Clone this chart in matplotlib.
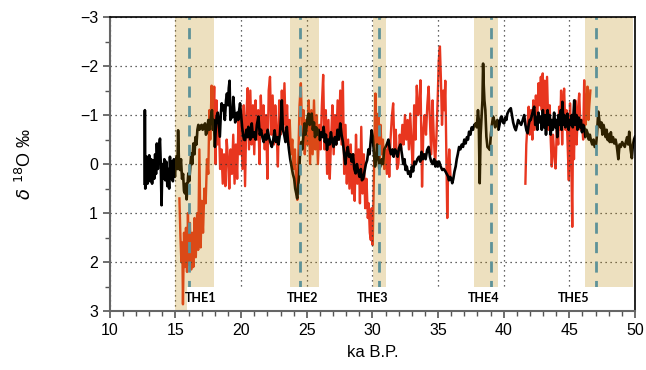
import numpy as np
import matplotlib
matplotlib.use("Agg")
import matplotlib.pyplot as plt
from matplotlib.patches import Rectangle
from matplotlib.ticker import MultipleLocator

plt.rcParams['font.family'] = ['Liberation Sans', 'DejaVu Sans']

# black record (ka B.P., d18O)
black = [
    (12.65, 0.40), (12.67, -1.10), (12.70, 0.50), (12.75, -0.05), (12.80, -0.15), (12.87, 0.40),
    (12.93, 0.10), (13.00, -0.18), (13.07, 0.35), (13.15, -0.10), (13.22, 0.40), (13.30, -0.08),
    (13.38, 0.30), (13.45, -0.20), (13.52, 0.20), (13.58, -0.42), (13.66, 0.10), (13.74, -0.30),
    (13.82, -0.52), (13.88, 0.00), (13.94, 0.84), (14.00, 0.00), (14.08, 0.30), (14.15, -0.10),
    (14.22, 0.33), (14.30, -0.05), (14.38, 0.45), (14.45, 0.10), (14.52, 0.50), (14.58, -0.15),
    (14.65, 0.30), (14.72, -0.05), (14.80, 0.35), (14.88, -0.10), (14.96, 0.26), (15.03, -0.05),
    (15.09, -0.15), (15.15, 0.10), (15.20, -0.69), (15.27, 0.00), (15.34, 0.12), (15.42, -0.10),
    (15.50, 0.30), (15.58, 0.20), (15.65, 0.55), (15.73, 0.60), (15.80, 0.40), (15.85, 0.72),
    (15.92, 0.40), (15.98, 0.19), (16.05, 0.35), (16.12, 0.10), (16.20, -0.22), (16.28, 0.00),
    (16.36, -0.42), (16.45, -0.20), (16.52, -0.55), (16.60, -0.40), (16.67, -0.70), (16.74, -0.80),
    (16.82, -0.70), (16.90, -0.78), (17.00, -0.80), (17.07, -0.70), (17.15, -0.75), (17.25, -0.83),
    (17.32, -0.60), (17.40, -0.65), (17.50, -0.90), (17.58, -0.70), (17.65, -0.85), (17.72, -1.00),
    (17.78, -1.10), (17.85, -0.70), (17.92, -0.90), (18.00, -0.35), (18.08, -0.80), (18.14, -0.97),
    (18.22, -1.05), (18.30, -0.80), (18.38, -0.56), (18.45, -1.00), (18.52, -1.24), (18.60, -1.10),
    (18.68, -1.20), (18.76, -0.90), (18.85, -1.30), (18.92, -1.44), (19.00, -1.20), (19.06, -1.55),
    (19.12, -1.70), (19.18, -0.90), (19.25, -1.10), (19.32, -0.95), (19.40, -1.37), (19.48, -1.10),
    (19.55, -0.85), (19.62, -1.00), (19.70, -1.05), (19.78, -0.90), (19.85, -1.10), (19.92, -1.24),
    (20.00, -1.00), (20.08, -0.75), (20.15, -0.60), (20.22, -0.50), (20.30, -0.49), (20.40, -0.70),
    (20.48, -0.55), (20.55, -0.76), (20.62, -0.60), (20.70, -0.50), (20.81, -0.83), (20.90, -0.55),
    (21.00, -0.65), (21.10, -0.50), (21.20, -0.80), (21.32, -0.97), (21.42, -0.60), (21.52, -0.70),
    (21.62, -0.55), (21.72, -0.45), (21.83, -0.60), (21.92, -0.50), (22.02, -0.70), (22.12, -0.55),
    (22.22, -0.45), (22.34, -0.35), (22.45, -0.50), (22.55, -0.69), (22.65, -0.45), (22.75, -0.55),
    (22.85, -0.40), (22.95, -0.60), (23.05, -1.00), (23.10, -1.30), (23.18, -0.70), (23.28, -0.60),
    (23.38, -0.45), (23.48, -0.76), (23.56, -0.50), (23.64, -0.30), (23.74, -0.10), (23.84, 0.05),
    (23.94, 0.20), (24.04, 0.30), (24.12, 0.50), (24.20, 0.60), (24.27, 0.70), (24.35, 0.45),
    (24.42, 0.20), (24.50, -0.29), (24.58, -0.45), (24.66, -0.30), (24.75, -0.60), (24.83, -0.83),
    (24.90, -0.60), (24.98, -0.75), (25.06, -0.95), (25.14, -1.03), (25.22, -0.80), (25.30, -0.90),
    (25.38, -1.03), (25.46, -0.70), (25.55, -0.85), (25.63, -0.55), (25.72, -0.75), (25.80, -0.60),
    (25.90, -0.70), (26.00, -0.49), (26.10, -0.65), (26.20, -0.55), (26.28, -0.76), (26.38, -0.45),
    (26.46, -0.60), (26.54, -0.29), (26.64, -0.50), (26.74, -0.40), (26.84, -0.65), (26.94, -0.45),
    (27.04, -0.35), (27.14, -0.55), (27.24, -0.40), (27.34, -0.70), (27.44, -0.50), (27.55, -0.83),
    (27.65, -0.60), (27.75, -0.45), (27.85, -0.20), (27.93, 0.00), (28.02, -0.20), (28.12, -0.35),
    (28.22, -0.15), (28.32, -0.20), (28.42, -0.05), (28.52, -0.20), (28.62, 0.10), (28.72, 0.19),
    (28.82, 0.00), (28.92, 0.15), (29.02, 0.26), (29.12, 0.10), (29.20, 0.33), (29.30, 0.30),
    (29.40, 0.15), (29.50, 0.00), (29.60, -0.08), (29.70, -0.30), (29.78, -0.20), (29.86, -0.45),
    (29.94, -0.69), (30.03, -0.56), (30.12, -0.20), (30.20, 0.05), (30.28, -0.10), (30.36, -0.40),
    (30.44, -0.20), (30.52, 0.09), (30.60, 0.05), (30.70, -0.10), (30.80, 0.00), (30.90, -0.30),
    (31.00, -0.35), (31.12, -0.42), (31.22, -0.50), (31.32, -0.30), (31.42, -0.20), (31.52, -0.30),
    (31.62, -0.15), (31.72, -0.30), (31.82, -0.25), (31.92, -0.15), (32.02, -0.32), (32.14, -0.40),
    (32.25, -0.20), (32.35, 0.00), (32.45, -0.10), (32.52, 0.12), (32.62, 0.05), (32.72, 0.20),
    (32.82, 0.15), (32.90, 0.26), (33.00, 0.05), (33.10, 0.15), (33.20, -0.05), (33.30, 0.00),
    (33.42, -0.10), (33.54, -0.15), (33.64, -0.05), (33.74, -0.25), (33.84, -0.10), (33.94, -0.20),
    (34.05, -0.10), (34.17, -0.29), (34.28, -0.35), (34.38, -0.15), (34.48, -0.05), (34.60, 0.00),
    (34.70, -0.10), (34.80, 0.05), (34.90, -0.05), (34.98, 0.05), (35.08, -0.05), (35.20, 0.05),
    (35.32, 0.12), (35.44, 0.10), (35.56, 0.15), (35.66, 0.20), (35.76, 0.25), (35.83, 0.33),
    (35.92, 0.26), (36.00, 0.30), (36.08, 0.39), (36.16, 0.30), (36.25, 0.15), (36.34, 0.05),
    (36.42, -0.10), (36.50, -0.20), (36.60, -0.35), (36.70, -0.30), (36.80, -0.40), (36.90, -0.35),
    (37.00, -0.50), (37.10, -0.42), (37.20, -0.55), (37.28, -0.50), (37.36, -0.66), (37.46, -0.60),
    (37.56, -0.75), (37.66, -0.70), (37.76, -0.80), (37.87, -0.83), (37.95, -0.75), (38.04, -1.10),
    (38.10, -0.90), (38.17, 0.39), (38.24, -0.60), (38.32, -1.00), (38.38, -1.30), (38.43, -2.05),
    (38.48, -1.60), (38.53, -1.30), (38.60, -1.10), (38.68, -0.56), (38.76, -0.35), (38.86, -0.32),
    (38.94, -0.29), (39.02, -0.60), (39.10, -0.80), (39.19, -0.97), (39.27, -0.90), (39.35, -0.75),
    (39.44, -0.85), (39.52, -0.90), (39.60, -0.70), (39.68, -0.80), (39.77, -0.95), (39.85, -0.97),
    (39.94, -0.85), (40.03, -0.83), (40.12, -0.95), (40.20, -0.90), (40.28, -1.03), (40.41, -1.10),
    (40.54, -1.14), (40.63, -1.00), (40.72, -0.85), (40.82, -0.75), (40.92, -0.69), (41.02, -0.80),
    (41.10, -0.90), (41.20, -0.85), (41.33, -0.80), (41.45, -0.90), (41.56, -1.00), (41.65, -0.80),
    (41.73, -0.69), (41.82, -0.63), (41.90, -0.80), (41.98, -0.90), (42.06, -0.90), (42.15, -1.00),
    (42.24, -1.10), (42.32, -1.17), (42.40, -0.80), (42.48, -0.95), (42.56, -0.70), (42.64, -1.05),
    (42.72, -0.85), (42.83, -0.97), (42.90, -0.70), (42.98, -1.10), (43.06, -0.75), (43.14, -1.00),
    (43.22, -0.60), (43.34, -1.10), (43.42, -0.80), (43.50, -1.00), (43.58, -0.60), (43.66, -0.90),
    (43.74, -0.70), (43.84, -1.05), (43.92, -0.75), (44.00, -0.90), (44.08, -0.55), (44.16, -1.00),
    (44.24, -0.80), (44.35, -1.10), (44.42, -0.70), (44.47, -1.27), (44.55, -0.80), (44.62, -1.00),
    (44.70, -0.75), (44.78, -0.95), (44.86, -1.03), (44.94, -0.70), (45.02, -0.90), (45.10, -0.80),
    (45.18, -1.00), (45.26, -0.75), (45.37, -1.30), (45.45, -0.80), (45.54, -1.00), (45.62, -0.70),
    (45.70, -0.95), (45.80, -0.75), (45.88, -0.90), (45.96, -0.65), (46.06, -0.80), (46.14, -0.76),
    (46.22, -0.55), (46.30, -0.70), (46.39, -0.63), (46.48, -0.50), (46.56, -0.60), (46.64, -0.49),
    (46.74, -0.40), (46.84, -0.50), (46.93, -0.35), (47.02, -0.35), (47.10, -0.60), (47.20, -1.07),
    (47.28, -0.90), (47.36, -0.75), (47.44, -0.85), (47.52, -0.60), (47.60, -0.80), (47.68, -0.70),
    (47.76, -0.55), (47.84, -0.70), (47.92, -0.49), (48.00, -0.60), (48.08, -0.45), (48.16, -0.65),
    (48.24, -0.45), (48.32, -0.55), (48.42, -0.42), (48.52, -0.50), (48.62, -0.35), (48.73, -0.10),
    (48.82, -0.40), (48.92, -0.35), (49.02, -0.45), (49.12, -0.40), (49.22, -0.35), (49.30, -0.45),
    (49.40, -0.55), (49.48, -0.40), (49.56, -0.66), (49.66, -0.30), (49.76, -0.12), (49.84, -0.40),
    (49.92, -0.50), (50.00, -0.56),
]

# red record, part 1 (15.3-36 ka) and part 2 (41.6-46.6 ka)
red1 = [
    (15.30, 0.70), (15.38, 1.50), (15.45, 2.00), (15.52, 1.60), (15.57, 2.86), (15.65, 1.40),
    (15.72, 2.10), (15.80, 1.30), (15.88, 2.20), (15.95, 1.00), (16.03, 2.05), (16.10, 1.20),
    (16.20, 2.15), (16.28, 1.40), (16.36, 2.10), (16.45, 1.10), (16.55, 1.90), (16.65, 1.00),
    (16.73, 1.75), (16.82, -0.30), (16.92, 1.70), (17.00, 0.75), (17.10, 1.40), (17.20, 0.50),
    (17.30, 0.80), (17.40, -0.10), (17.50, 0.20), (17.58, -1.10), (17.65, -0.50), (17.75, -1.60),
    (17.85, -0.80), (17.95, -1.58), (18.05, 0.00), (18.12, -1.30), (18.20, -0.40), (18.30, -0.90),
    (18.40, 0.10), (18.50, -0.30), (18.60, 0.40), (18.70, -0.20), (18.80, 0.45), (18.90, -0.50),
    (19.00, -0.10), (19.10, 0.50), (19.20, -0.30), (19.30, 0.20), (19.40, -0.60), (19.50, 0.40),
    (19.60, -0.40), (19.70, 0.30), (19.80, -0.90), (19.90, -0.20), (20.00, -1.00), (20.10, 0.10),
    (20.20, -1.20), (20.30, 0.45), (20.40, -1.00), (20.50, -1.55), (20.60, -0.30), (20.70, -1.50),
    (20.80, -0.40), (20.90, -1.20), (21.00, -0.20), (21.10, -1.30), (21.20, -0.50), (21.30, -1.10),
    (21.40, 0.00), (21.50, -1.40), (21.60, -0.60), (21.70, -1.20), (21.80, -0.30), (21.90, -1.00),
    (22.00, 0.30), (22.10, -1.50), (22.20, -1.78), (22.30, -0.60), (22.40, -1.40), (22.50, -0.40),
    (22.60, -1.20), (22.70, -0.70), (22.80, 0.05), (22.90, -1.30), (23.00, -0.60), (23.10, -1.50),
    (23.20, -0.80), (23.30, -1.65), (23.40, -0.60), (23.50, -1.20), (23.60, -0.40), (23.70, -0.90),
    (23.80, -0.20), (23.90, -0.50), (24.00, 0.10), (24.10, -0.30), (24.20, 0.50), (24.28, 0.73),
    (24.35, -0.10), (24.45, -1.20), (24.55, -1.65), (24.65, -0.60), (24.75, -1.10), (24.85, -0.20),
    (24.95, -0.90), (25.05, -0.40), (25.15, -1.30), (25.25, 0.00), (25.35, -1.10), (25.45, -0.20),
    (25.55, -1.30), (25.65, -0.30), (25.75, -1.00), (25.85, 0.00), (25.95, -0.80), (26.05, -0.30),
    (26.15, -1.20), (26.25, -1.82), (26.35, -0.30), (26.45, -1.10), (26.55, 0.20), (26.65, -0.90),
    (26.75, 0.30), (26.85, -0.50), (26.95, -1.20), (27.05, -0.20), (27.15, -1.00), (27.25, -0.40),
    (27.35, -1.30), (27.45, -0.50), (27.55, -1.50), (27.65, -0.40), (27.75, -1.68), (27.85, 0.20),
    (27.95, -0.80), (28.05, 0.40), (28.15, -0.50), (28.25, 0.50), (28.35, -0.40), (28.45, 0.60),
    (28.55, -0.20), (28.65, 0.75), (28.75, -0.60), (28.85, 0.40), (28.95, -0.30), (29.05, 0.80),
    (29.15, -0.76), (29.25, 0.60), (29.35, -0.20), (29.45, 0.90), (29.55, 0.30), (29.65, 1.10),
    (29.72, 0.80), (29.80, 1.40), (29.88, 1.55), (29.95, 0.90), (30.02, 1.65), (30.10, 0.40),
    (30.18, -0.80), (30.23, -1.44), (30.30, -0.60), (30.38, -0.30), (30.45, -1.03), (30.55, 0.10),
    (30.62, -0.80), (30.70, -0.20), (30.80, -0.50), (30.90, 0.10), (31.00, -0.30), (31.10, 0.20),
    (31.20, -0.40), (31.28, 0.26), (31.38, -0.50), (31.48, -0.97), (31.58, -1.24), (31.68, -0.30),
    (31.78, -0.70), (31.88, 0.10), (31.98, 0.00), (32.08, -0.60), (32.18, -0.30), (32.28, -0.80),
    (32.38, -0.40), (32.48, -1.00), (32.58, -0.50), (32.68, -0.90), (32.78, -0.30), (32.88, -1.03),
    (32.98, -0.40), (33.08, 0.10), (33.18, -1.20), (33.28, -0.50), (33.38, -1.60), (33.48, -1.00),
    (33.58, -1.20), (33.66, -1.71), (33.78, 0.46), (33.88, -0.70), (33.98, -1.00), (34.08, -0.60),
    (34.18, -1.20), (34.28, -1.58), (34.38, -0.90), (34.48, -0.20), (34.58, -1.30), (34.68, -0.50),
    (34.78, 0.00), (34.88, -0.60), (34.98, -1.40), (35.05, -2.10), (35.14, -2.40), (35.22, -1.70),
    (35.30, -0.80), (35.40, -1.50), (35.48, -1.10), (35.55, -1.70), (35.62, -0.40), (35.70, 1.10),
    (35.76, 0.20), (35.85, -0.30), (35.95, 0.26),
]
red2 = [
    (41.65, 0.40), (41.72, -0.40), (41.80, -0.76), (41.90, -1.17), (41.98, -0.60), (42.08, -1.10),
    (42.18, -0.50), (42.25, -1.30), (42.35, -0.70), (42.45, -1.40), (42.55, -0.90), (42.65, -1.65),
    (42.75, -1.20), (42.83, -1.78), (42.90, -1.10), (42.97, -1.85), (43.05, -1.00), (43.12, -1.70),
    (43.20, -0.90), (43.30, -1.78), (43.40, -0.70), (43.50, -1.20), (43.58, -0.50), (43.66, 0.05),
    (43.75, -0.60), (43.85, -0.20), (43.95, 0.09), (44.05, -0.80), (44.15, -0.40), (44.22, -1.17),
    (44.30, -0.70), (44.37, -1.50), (44.45, -0.40), (44.52, -1.20), (44.60, -1.54), (44.70, -0.70),
    (44.78, -1.10), (44.88, -0.30), (44.96, 0.33), (45.05, -1.24), (45.12, -0.60), (45.22, 1.28),
    (45.28, -0.80), (45.35, -0.10), (45.45, -1.30), (45.55, -0.40), (45.65, -1.10), (45.75, -1.44),
    (45.85, -0.70), (45.95, -0.90), (46.05, -0.50), (46.13, -1.71), (46.22, -0.80), (46.30, -1.20),
    (46.38, -1.58), (46.45, -0.90), (46.52, -1.20), (46.60, -1.50),
]

# shaded events (start, end), dashed event ages and labels
bands = [(15.0, 17.9), (23.7, 25.95), (30.05, 31.0), (37.7, 39.6), (46.2, 49.85)]
event_ages = [16.0, 24.5, 30.5, 39.05, 47.05]
labels = ['THE1', 'THE2', 'THE3', 'THE4', 'THE5']
label_x = [16.9, 24.7, 30.0, 38.5, 45.3]

fig = plt.figure(figsize=(6.46, 3.70), dpi=100)
ax = fig.add_axes([0.170, 0.159, 0.813, 0.795])

bx, by = zip(*black)
r1x, r1y = zip(*red1)
r2x, r2y = zip(*red2)
ax.plot(r1x, r1y, color='#e8361f', lw=1.7, zorder=2)
ax.plot(r2x, r2y, color='#e8361f', lw=1.7, zorder=2)
ax.plot(bx, by, color='black', lw=1.9, zorder=3)

for a, b in bands:
    ax.axvspan(a, b, color='#b88400', alpha=0.25, lw=0, zorder=4)
for t in event_ages:
    ax.axvline(t, color='#5e9298', lw=2, dashes=(4, 3), zorder=5)

# white strip holding the labels
ax.add_patch(Rectangle((15.87, 2.5), 49.95 - 15.87, 0.5, facecolor='white',
                       edgecolor='none', zorder=6))
for lx, lab in zip(label_x, labels):
    ax.text(lx, 2.74, lab, ha='center', va='center', fontsize=9,
            fontweight='bold', family=['Lato', 'DejaVu Sans'], zorder=7)

ax.set_xlim(10, 50)
ax.set_ylim(3, -3)
ax.xaxis.set_major_locator(MultipleLocator(5))
ax.xaxis.set_minor_locator(MultipleLocator(1))
ax.yaxis.set_major_locator(MultipleLocator(1))
ax.yaxis.set_minor_locator(MultipleLocator(0.5))
ax.grid(True, which='major', linestyle=(0, (1, 3)), color='#333333', lw=0.9, zorder=1)
ax.set_axisbelow(False)
for gl in ax.get_xgridlines() + ax.get_ygridlines():
    gl.set_zorder(4.5)

ax.tick_params(which='major', length=5, width=1.2, color='#555555', labelsize=11.5)
ax.tick_params(which='minor', length=3.5, width=1.0, color='#555555')
for s in ['left', 'bottom']:
    ax.spines[s].set_color('#666666')
    ax.spines[s].set_linewidth(1.5)
for s in ['top', 'right']:
    ax.spines[s].set_color('black')
    ax.spines[s].set_linewidth(1.2)
for sp in ax.spines.values():
    sp.set_zorder(8)

ax.set_xlabel('ka B.P.', fontsize=12, labelpad=5)
ax.set_ylabel(r'$\delta\ ^{18}$O ‰', fontsize=13, labelpad=32)

fig.savefig('out.png', dpi=100)
